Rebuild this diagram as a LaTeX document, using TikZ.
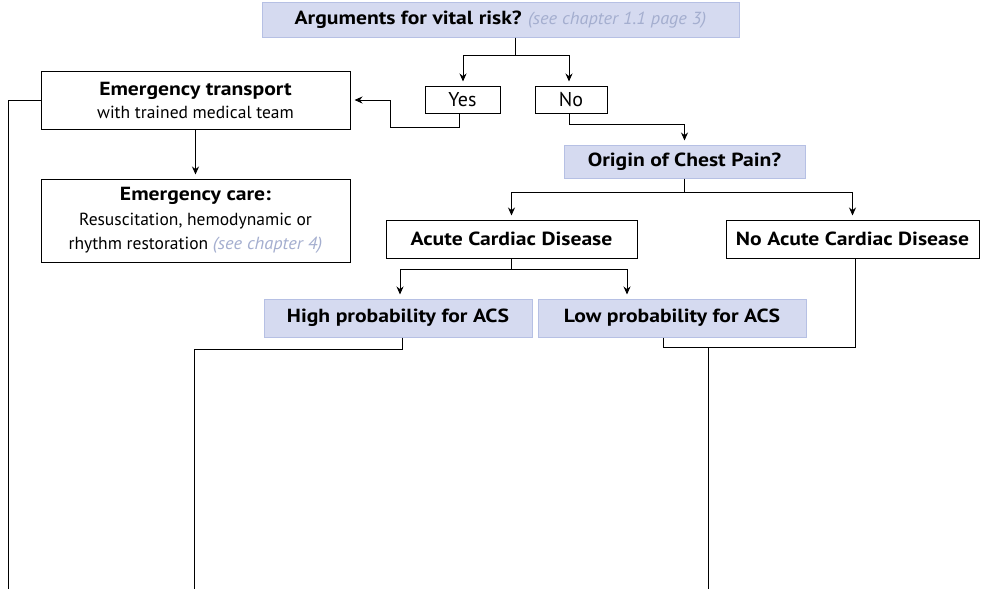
\documentclass[tikz,border=0pt]{standalone}
\usepackage{fontspec}
\setmainfont{PT Sans}[BoldFeatures={FakeStretch=1.14,Scale=1.085},ItalicFeatures={FakeStretch=1.05}]
\usetikzlibrary{arrows.meta}
\definecolor{qfill}{HTML}{D5DAF0}
\definecolor{qline}{HTML}{B6C0E4}
\definecolor{refgray}{HTML}{A4AECF}
\begin{document}
\begin{tikzpicture}[x=1pt,y=-1pt,
  every node/.style={font=\fontsize{17.5}{23}\selectfont, inner sep=0pt, align=center},
  plainbox/.style={draw=black, line width=1pt, fill=white},
  qbox/.style={draw=qline, line width=1pt, fill=qfill},
  answer/.style={plainbox, font=\fontsize{20}{24}\selectfont},
  link/.style={line width=1pt},
  arr/.style={link, -{Stealth[length=8pt,width=7pt]}, shorten >=4pt}]
\useasboundingbox (0,0) rectangle (981,589);

% decision boxes
\node[qbox, minimum width=477, minimum height=35] (risk) at (500.5,19.5)
  {\textbf{Arguments for vital risk?} {\itshape\color{refgray}(see chapter 1.1 page 3)}};
\node[answer, minimum width=75, minimum height=27] (yes) at (462.5,99.5) {Yes};
\node[answer, minimum width=72, minimum height=27] (no) at (571,99.5) {No};

% emergency branch
\node[plainbox, minimum width=309, minimum height=58] (transport) at (195.5,100)
  {\textbf{Emergency transport}\\ with trained medical team};
\node[plainbox, minimum width=309, minimum height=83, font=\fontsize{17.5}{24.5}\selectfont] (care) at (195.5,220.5)
  {\textbf{Emergency care:}\\ Resuscitation, hemodynamic or\\ rhythm restoration {\itshape\color{refgray}(see chapter 4)}};

% chest pain branch
\node[qbox, minimum width=241, minimum height=33] (origin) at (684.5,161.5) {\textbf{Origin of Chest Pain?}};
\node[plainbox, minimum width=251, minimum height=38] (acute) at (511.5,239) {\textbf{Acute Cardiac Disease}};
\node[plainbox, minimum width=253, minimum height=38] (noacute) at (852.5,239) {\textbf{No Acute Cardiac Disease}};
\node[qbox, minimum width=268, minimum height=38] (high) at (398,318) {\textbf{High probability for ACS}};
\node[qbox, minimum width=268, minimum height=38] (low) at (672,318) {\textbf{Low probability for ACS}};

% free ends of the lines leaving the page
\coordinate (transportdown) at (8,589);
\coordinate (highdown) at (194,589);
\coordinate (lowjoin) at (708,347);
\coordinate (lowdown) at (708,589);
\coordinate (yesbend) at (390,100);

% connectors
\draw[arr] ([xshift=14.5pt]risk.south) -- ++(0,18) -| ([xshift=0.5pt]yes.north);
\draw[arr] ([xshift=14.5pt]risk.south) -- ++(0,18) -| ([xshift=-2pt]no.north);
\draw[link] ([xshift=-3.5pt]yes.south) -- ++(0,14) -| (yesbend);
\draw[arr] (yesbend) -- (transport.east);
\draw[arr] ([xshift=-2pt]no.south) -- ++(0,11) -| (origin.north);
\draw[arr] (transport.south) -- (care.north);
\draw[link] (transport.west) -| (transportdown);
\draw[arr] (origin.south) -- ++(0,14) -| (acute.north);
\draw[arr] (origin.south) -- ++(0,14) -| (noacute.north);
\draw[arr] (acute.south) -- ++(0,11) -| ([xshift=2pt]high.north);
\draw[arr] (acute.south) -- ++(0,11) -| ([xshift=-45pt]low.north);
\draw[link] ([xshift=4pt]high.south) -- ++(0,12) -| (highdown);
\draw[link] ([xshift=-9pt]low.south) -- ++(0,10) -| ([xshift=3pt]noacute.south);
\draw[link, line width=0.8pt] (lowjoin) -- (lowdown);
\end{tikzpicture}
\end{document}
